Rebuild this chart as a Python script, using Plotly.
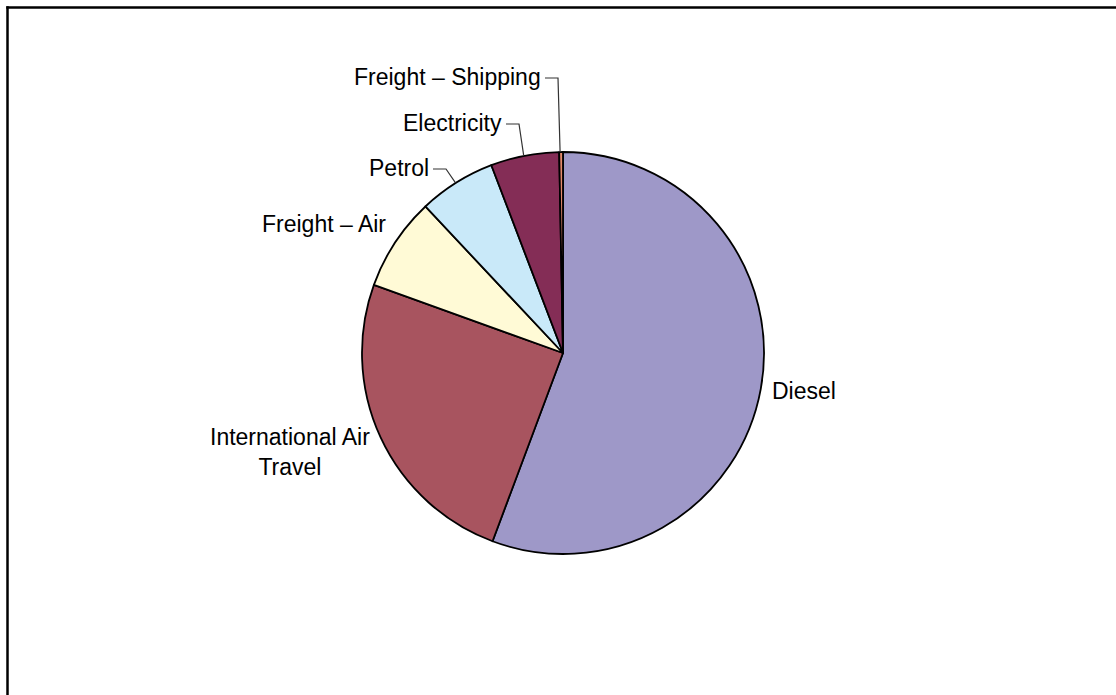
import math
import plotly.graph_objects as go

# ---- data ----
categories = ["Diesel", "International Air Travel", "Freight – Air",
              "Petrol", "Electricity", "Freight – Shipping"]
values = [55.7, 24.8, 7.5, 6.2, 5.5, 0.3]
display_text = ["Diesel", "International Air<br>Travel", "Freight – Air",
                "Petrol", "Electricity", "Freight – Shipping"]

# ---- styling / layout ----
colors = ["#9E98C8", "#A8545F", "#FFFAD6", "#C9E9F9", "#842D56", "#E58A6C"]
W, H = 1116, 695
CX, CY, R = 563, 353, 201
FONT = "Liberation Sans, Arial, sans-serif"
FS = 23

# label placement in pixels (x, y of anchor), anchor side, leader flag
label_pos = [
    dict(x=771, y=391, xanchor="left", leader=False),
    dict(x=290, y=452, xanchor="center", leader=False),
    dict(x=387, y=224, xanchor="right", leader=False),
    dict(x=430, y=168, xanchor="right", leader=True),
    dict(x=503, y=123, xanchor="right", leader=True),
    dict(x=542, y=77, xanchor="right", leader=True),
]


def px(x):
    return x / W


def py(y):
    return 1 - y / H


fig = go.Figure(go.Pie(
    labels=categories,
    values=values,
    sort=False,
    direction="clockwise",
    rotation=0,
    textinfo="none",
    hoverinfo="label+percent",
    marker=dict(colors=colors, line=dict(color="black", width=1.8)),
    domain=dict(x=[px(CX - R), px(CX + R)], y=[py(CY + R), py(CY - R)]),
    showlegend=False,
))

annotations = []
shapes = []
total = sum(values)
cum = 0.0
for cat, txt, v, lp in zip(categories, display_text, values, label_pos):
    mid = (cum + v / 2) / total * 2 * math.pi
    cum += v
    ex = CX + R * math.sin(mid)
    ey = CY - R * math.cos(mid)
    annotations.append(dict(
        x=px(lp["x"]), y=py(lp["y"]), xref="paper", yref="paper",
        text=txt, showarrow=False, xanchor=lp["xanchor"], yanchor="middle",
        align="center", borderpad=0,
        font=dict(family=FONT, size=FS, color="black"),
    ))
    if lp["leader"]:
        elbow_x = lp["x"] + 16
        ly = lp["y"] + 1
        path = (f"M {px(lp['x'] + 3)} {py(ly)} L {px(elbow_x)} {py(ly)} "
                f"L {px(ex - 1)} {py(ey)}")
        shapes.append(dict(type="path", xref="paper", yref="paper", path=path,
                           line=dict(color="#333333", width=1.2)))

# chart area border: only top and left edges are visible in the view
border = dict(color="black", width=2.5)
shapes.append(dict(type="line", xref="paper", yref="paper",
                   x0=px(6.3), x1=1.0, y0=py(7.5), y1=py(7.5), line=border))
shapes.append(dict(type="line", xref="paper", yref="paper",
                   x0=px(7.5), x1=px(7.5), y0=py(6.3), y1=0.0, line=border))

fig.update_layout(
    width=W, height=H,
    margin=dict(l=0, r=0, t=0, b=0),
    paper_bgcolor="white", plot_bgcolor="white",
    annotations=annotations, shapes=shapes,
    font=dict(family=FONT, size=FS, color="black"),
)

fig.write_html(
    "out.html",
    config={"displayModeBar": False},
    post_script="document.body.style.margin='0';"
                "document.body.style.overflow='hidden';",
)
